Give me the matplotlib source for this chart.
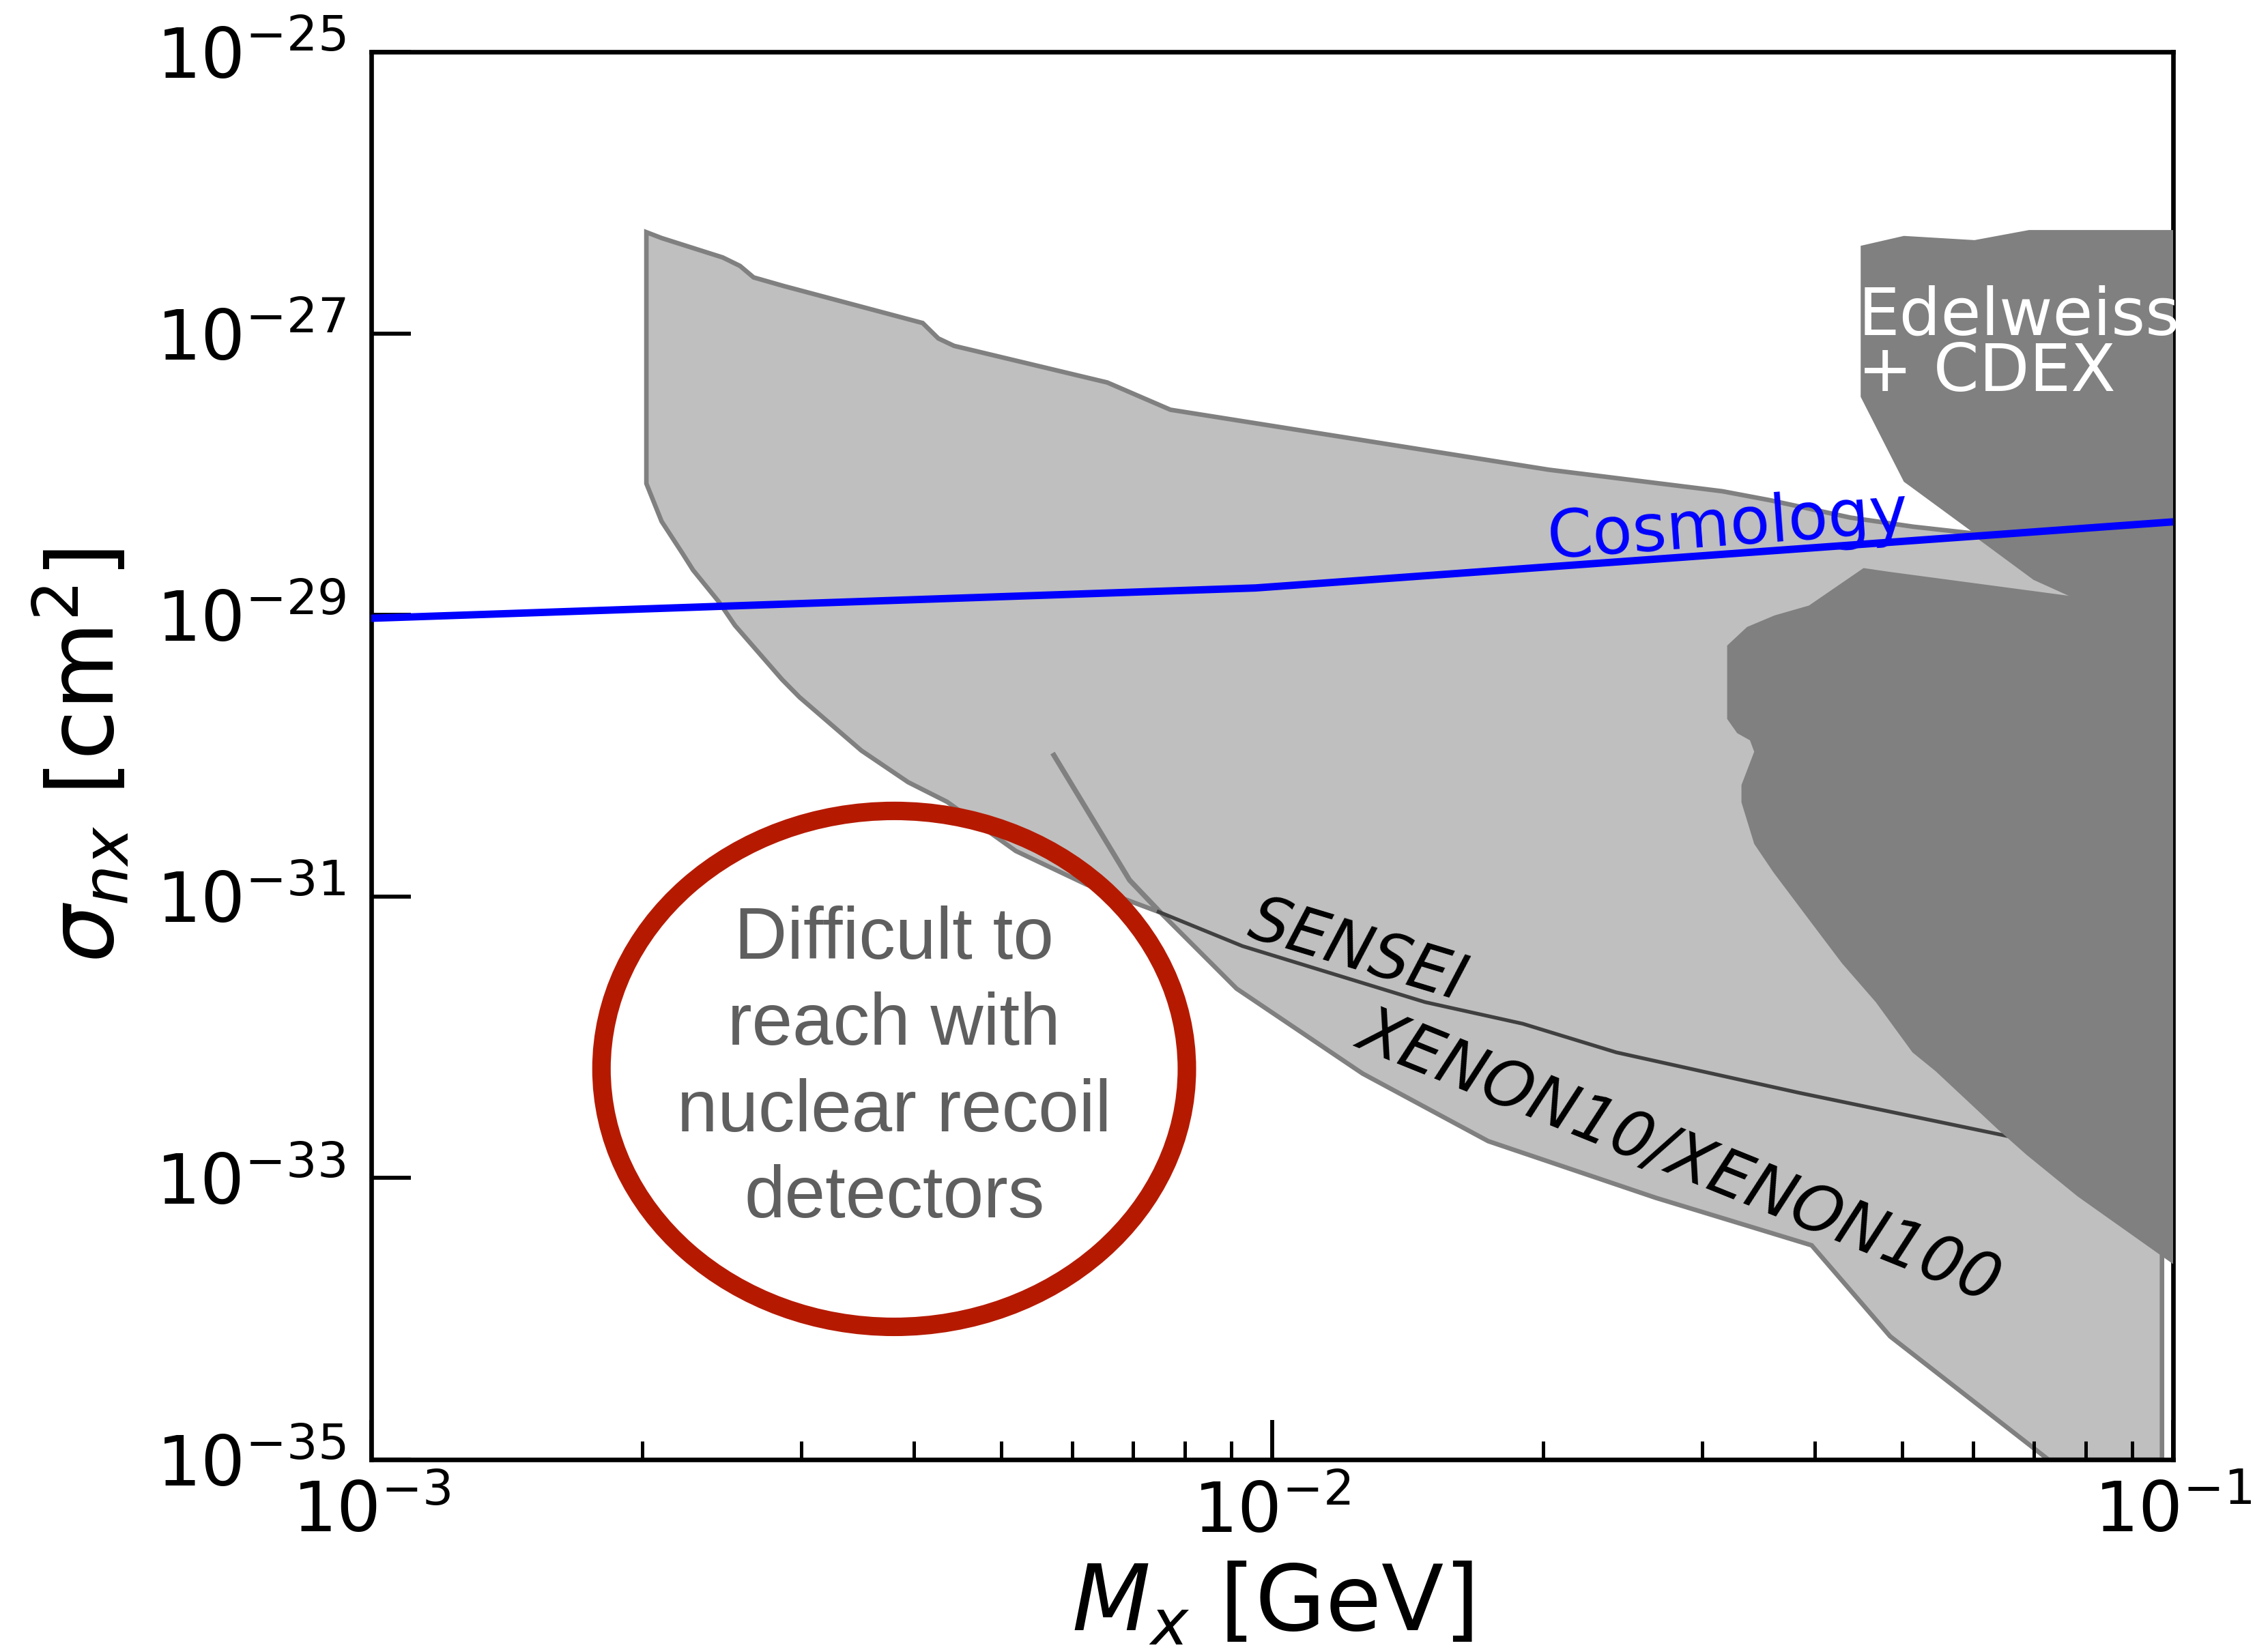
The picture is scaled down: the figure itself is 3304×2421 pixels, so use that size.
import numpy as np
import matplotlib
matplotlib.use("Agg")
import matplotlib.pyplot as plt
from matplotlib.patches import Ellipse
from matplotlib.ticker import LogLocator, NullLocator

# ---------------- data ----------------
# upper edge of the light grey XENON10/XENON100 region, left -> right
light_top_m = [2.02e-3, 2.10e-3, 2.455e-3, 2.566e-3, 2.657e-3, 2.870e-3, 4.093e-3,
               4.26e-3, 4.435e-3, 6.56e-3, 7.71e-3, 2.027e-2, 3.16e-2, 3.58e-2,
               4.385e-2, 5.148e-2, 6.02e-2, 7.02e-2, 7.81e-2]
light_top_s = [5.26e-27, 4.78e-27, 3.48e-27, 3.03e-27, 2.51e-27, 2.18e-27, 1.19e-27,
               9.25e-28, 8.19e-28, 4.50e-28, 2.88e-28, 1.08e-28, 7.59e-29, 6.53e-29,
               4.93e-29, 4.25e-29, 3.80e-29, 1.84e-29, 1.35e-29]
# right edge of the region (vertical line near 0.1 GeV)
light_right_m = [9.72e-2, 9.72e-2]
light_right_s = [3.7e-30, 1e-35]
# lower-left boundary, from the left edge down to where it meets the XENON line
light_low_m = [2.02e-3, 2.10e-3, 2.215e-3, 2.276e-3, 2.432e-3, 2.533e-3, 2.857e-3,
               2.988e-3, 3.50e-3, 3.944e-3, 4.358e-3, 5.193e-3, 6.22e-3, 6.907e-3, 7.516e-3]
light_low_s = [8.61e-29, 4.64e-29, 2.75e-29, 2.09e-29, 1.24e-29, 8.46e-30, 3.49e-30,
               2.61e-30, 1.09e-30, 6.50e-31, 4.71e-31, 2.11e-31, 1.22e-31, 9.44e-32, 7.71e-32]

# XENON10/XENON100 line
xenon_m = [5.705e-3, 6.945e-3, 7.516e-3, 9.13e-3, 1.26e-2, 1.737e-2, 2.666e-2,
           3.97e-2, 4.853e-2, 7.27e-2]
xenon_s = [1.047e-30, 1.31e-31, 7.71e-32, 2.22e-32, 5.53e-33, 1.83e-33, 7.24e-34,
           3.33e-34, 7.50e-35, 1e-35]

# SENSEI line
sensei_m = [7.48e-3, 9.27e-3, 1.478e-2, 1.897e-2, 2.41e-2, 3.843e-2, 6.596e-2]
sensei_s = [7.8e-32, 4.45e-32, 1.78e-32, 1.25e-32, 7.82e-33, 4.04e-33, 1.97e-33]

# Edelweiss + CDEX region (one outline)
dark_m = [4.50e-2, 5.025e-2, 6.02e-2, 6.92e-2, 1e-1, 1e-1, 7.835e-2, 6.87e-2, 6.38e-2,
          5.45e-2, 5.137e-2, 4.677e-2, 4.29e-2, 3.97e-2, 3.60e-2, 3.428e-2, 3.318e-2,
          3.318e-2, 3.428e-2, 3.391e-2, 3.282e-2, 3.199e-2, 3.199e-2, 3.366e-2, 3.61e-2,
          3.943e-2, 4.533e-2, 4.845e-2, 7.81e-2, 7.02e-2, 6.02e-2, 5.10e-2, 5.025e-2, 4.50e-2]
dark_s = [4.21e-27, 4.95e-27, 4.62e-27, 5.45e-27, 5.45e-27, 2.45e-34, 7.41e-34, 1.47e-33,
          2.24e-33, 5.75e-33, 7.82e-33, 1.78e-32, 3.36e-32, 6.48e-32, 1.49e-31, 2.37e-31,
          4.68e-31, 6.21e-31, 1.07e-30, 1.29e-30, 1.45e-30, 1.83e-30, 6.08e-30, 8.24e-30,
          9.95e-30, 1.17e-29, 2.16e-29, 2.03e-29, 1.35e-29, 1.84e-29, 3.80e-29, 8.28e-29,
          8.87e-29, 3.56e-28]

# cosmology bound
cosmo_m = [1e-3, 9.58e-3, 1e-1]
cosmo_s = [9.5e-30, 1.56e-29, 4.6e-29]

y_ticks = [1e-25, 1e-27, 1e-29, 1e-31, 1e-33, 1e-35]

LIGHT = "#bfbfbf"
EDGE = "#808080"
DARK = "#808080"

# ---------------- figure ----------------
fig = plt.figure(figsize=(3304 / 300, 2421 / 300), dpi=300)
ax = fig.add_axes([0.16465, 0.11648, 0.79903, 0.85193])
ax.set_xscale("log")
ax.set_yscale("log")
ax.set_xlim(1e-3, 1e-1)
ax.set_ylim(1e-35, 1e-25)

# light grey region
poly_m = light_top_m + light_right_m + xenon_m[2:][::-1] + light_low_m[::-1]
poly_s = light_top_s + light_right_s + xenon_s[2:][::-1] + light_low_s[::-1]
ax.fill(poly_m, poly_s, facecolor=LIGHT, edgecolor=EDGE, lw=1.6, zorder=1)
ax.plot(xenon_m[:3], xenon_s[:3], color=EDGE, lw=1.8, solid_capstyle="butt", zorder=2)
ax.plot(sensei_m, sensei_s, color="#404040", lw=1.3, zorder=2)

# Edelweiss + CDEX
ax.fill(dark_m, dark_s, facecolor=DARK, edgecolor="none", zorder=3)

# cosmology
ax.plot(cosmo_m, cosmo_s, color="#0000ff", lw=2.6, zorder=4)

# labels inside the plot
ax.text(2.027e-2, 2.55e-29, "Cosmology", color="#0000ff", fontsize=23,
        rotation=4.2, rotation_mode="anchor", ha="left", va="baseline", zorder=5)
ax.text(4.47e-2, 9.77e-28, "Edelweiss", color="white", fontsize=23,
        ha="left", va="baseline", zorder=5)
ax.text(4.47e-2, 3.91e-28, "+ CDEX", color="white", fontsize=23,
        ha="left", va="baseline", zorder=5)
ax.text(9.334e-3, 5.25e-32, "SENSEI", color="black", fontsize=22, style="italic",
        rotation=-16.8, rotation_mode="anchor", ha="left", va="baseline", zorder=5)
ax.text(1.234e-2, 8.77e-33, "XENON10/XENON100", color="black", fontsize=22.5,
        style="italic", rotation=-22, rotation_mode="anchor", ha="left",
        va="baseline", zorder=5)

# "difficult to reach" ellipse
ax.add_patch(Ellipse((0.2902, 0.2776), 0.3249, 0.3666, transform=ax.transAxes,
                     facecolor="none", edgecolor="#b51a00", lw=6.5, zorder=6))
ax.text(0.2902, 0.2776, "Difficult to\nreach with\nnuclear recoil\ndetectors",
        transform=ax.transAxes, ha="center", va="center", color="#5f5f5f",
        fontsize=25.7, family="Liberation Sans", linespacing=1.34, zorder=7)

# axes styling
ax.set_yticks(y_ticks)
ax.yaxis.set_minor_locator(NullLocator())
ax.xaxis.set_major_locator(LogLocator(base=10))
ax.xaxis.set_minor_locator(LogLocator(base=10, subs=np.arange(2, 10)))
ax.tick_params(which="both", direction="in", top=False, right=False)
ax.tick_params(which="major", length=14, width=1.4, labelsize=24.5)
ax.tick_params(which="minor", length=6.5, width=1.2)
ax.tick_params(axis="y", pad=9)
ax.tick_params(axis="x", pad=7)
for sp in ax.spines.values():
    sp.set_linewidth(1.6)

ax.set_xlabel(r"$M_x$ [GeV]", fontsize=32, labelpad=5)
ax.set_ylabel(r"$\sigma_{nx}$ [cm$^2$]", fontsize=32, labelpad=8)

fig.savefig("out.png", dpi=300)
